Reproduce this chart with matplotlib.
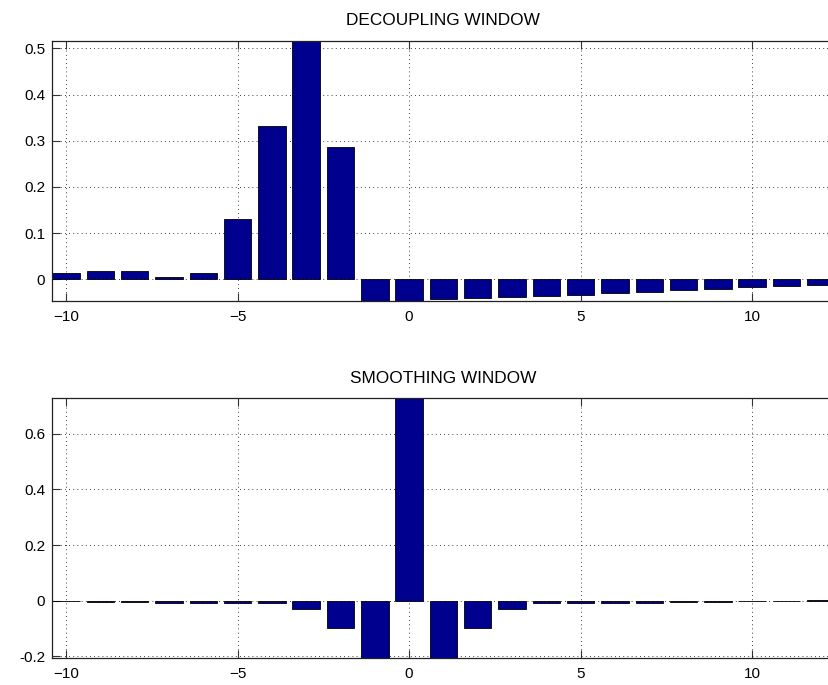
import matplotlib
matplotlib.use("Agg")
import matplotlib.pyplot as plt
import numpy as np

plt.rcParams['font.family'] = ['Liberation Sans', 'DejaVu Sans']

lags = list(range(-10, 13))
decoupling = [0.013, 0.0175, 0.018, 0.0056, 0.0136, 0.131, 0.332, 0.53, 0.286,
              -0.06, -0.046, -0.0433, -0.041, -0.039, -0.0355, -0.033, -0.030,
              -0.0275, -0.024, -0.020, -0.017, -0.0145, -0.012]
smoothing = [-0.0008, -0.003, -0.005, -0.007, -0.010, -0.010, -0.008, -0.030, -0.097,
             -0.25, 0.75, -0.25, -0.097, -0.030, -0.010, -0.010, -0.010, -0.008,
             -0.006, -0.003, -0.002, -0.001, 0.002]

titles = ["DECOUPLING WINDOW", "SMOOTHING WINDOW"]
yticks_top = [0, 0.1, 0.2, 0.3, 0.4, 0.5]
yticks_bot = [-0.2, 0, 0.2, 0.4, 0.6]
xticks = [-10, -5, 0, 5, 10]

W, H = 829, 685
fig = plt.figure(figsize=(W / 100, H / 100), dpi=100)

def make_ax(left, top, right, bottom):
    return fig.add_axes([left / W, 1 - bottom / H, (right - left) / W, (bottom - top) / H])

ax1 = make_ax(52.3, 40.7, 834.5, 301.5)
ax2 = make_ax(52.3, 398.3, 834.5, 658.3)

barcolor = '#00008f'
for ax, vals, title, yt, ylim in [
    (ax1, decoupling, titles[0], yticks_top, (-0.048, 0.5165)),
    (ax2, smoothing, titles[1], yticks_bot, (-0.207, 0.727)),
]:
    ax.bar(lags, vals, width=0.8, color=barcolor, edgecolor='black', linewidth=0.6, zorder=2)
    ax.set_xlim(-10.4, 12.4)
    ax.set_ylim(*ylim)
    ax.set_xticks(xticks)
    ax.set_yticks(yt)
    ax.set_yticklabels([('%g' % v) for v in yt])
    ax.grid(True, color='black', linestyle=(0, (1, 4)), linewidth=0.6, zorder=0)
    ax.set_axisbelow(True)
    ax.tick_params(direction='in', length=5.6, width=0.8, top=True, right=True,
                   labelsize=11, color='#333333')
    ax.tick_params(axis='x', pad=6)
    ax.tick_params(axis='y', pad=5)
    for s in ax.spines.values():
        s.set_linewidth(0.9)
        s.set_color('#222222')
    ax.set_title(title, fontsize=12.4, pad=11.3)

fig.savefig("out.png", dpi=100)
